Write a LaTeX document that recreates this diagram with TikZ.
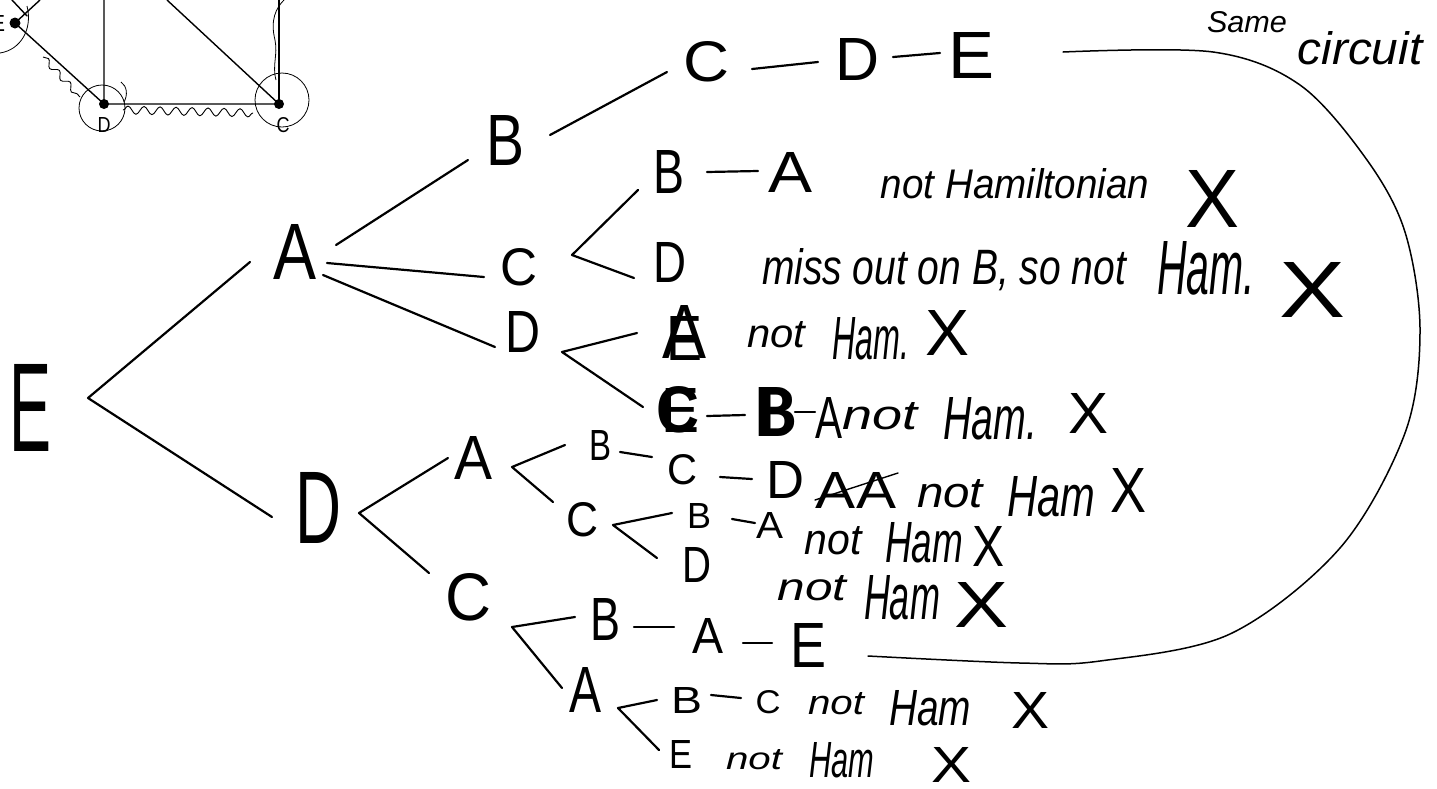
\documentclass[tikz,border=0pt]{standalone}
\usepackage{fontspec}
\setmainfont{Liberation Sans}
\usepackage{graphicx}
\usetikzlibrary{decorations.pathmorphing}
\newcommand{\bx}[3]{\resizebox{#1pt}{#2pt}{#3}}
\newcommand{\ib}[3]{\resizebox{#1pt}{#2pt}{\itshape #3}}
\begin{document}
\begin{tikzpicture}[x=1pt,y=-1pt,
  txt/.style={inner sep=0pt},
  edge/.style={line width=2.2pt,line cap=round,line join=round},
  thinl/.style={line width=1.4pt,line cap=round},
  wig/.style={line width=0.9pt,decorate,decoration={snake,amplitude=#1pt,segment length=16pt}}]
\useasboundingbox (0,0) rectangle (1437,788);
\clip (0,0) rectangle (1437,788);

% ---------- small graph, top left ----------
\coordinate (gE) at (15,23);
\coordinate (gD) at (104,104);
\coordinate (gC) at (279,104);
\coordinate (gT1) at (104,0);
\coordinate (gT2) at (167,0);
\coordinate (gT3) at (279,0);
\coordinate (gT4) at (40,0);
\coordinate (gT5) at (12,0);
\draw[thinl] (gT1) -- (gD) -- (gC) -- (gT2);
\draw[line width=2.2pt] (gT3) -- (gC);
\draw[thinl] (gE) -- (gD);
\draw[thinl] (gE) -- (gT4);
\draw[thinl] (gT5) -- (27,16);
\fill (gE) circle (5.5);
\fill (gD) circle (5);
\fill (gC) circle (5);
\node[txt] (lE) at (-2,23) {\bx{14}{16}{E}};
\node[txt] (lD) at (104,125) {\bx{13}{15}{D}};
\node[txt] (lC) at (283,125) {\bx{13}{15}{C}};
\draw[line width=0.8pt] (102,108) circle (23);
\draw[line width=0.8pt] (282,100) circle (27);
\draw[line width=0.8pt] (27,6) .. controls (33,30) and (20,50) .. (0,53);
\draw[line width=0.8pt] (121,82) .. controls (127,86) and (128,95) .. (124,102);
\draw[wig=3] (43,57) -- (80,97);
\draw[wig=4] (123,110) -- (253,113);
\draw[line width=0.8pt] (284,0) .. controls (276,8) and (270,20) .. (275,40) .. controls (278,55) and (272,65) .. (276,80);

% ---------- tree ----------
\node[txt] (E0) at (31,408) {\bx{42}{87}{E}};
\node[txt] (A1) at (295,252) {\bx{43}{55}{A}};
\node[txt] (D1) at (319,508) {\bx{46}{71}{D}};
\node[txt] (B2) at (505,140) {\bx{38}{50}{B}};
\node[txt] (C2) at (519,267) {\bx{37}{37}{C}};
\node[txt] (D2) at (523,332) {\bx{35}{41}{D}};

\coordinate (v0) at (88,398);
\draw[edge] (250,262) -- (v0) -- (272,517);
\draw[edge] (336,245) -- (468,160);
\draw[edge] (327,263) -- (484,277);
\draw[edge] (323,275) -- (495,347);

% C - D - E
\node[txt] (C3) at (706,62) {\bx{46}{40}{C}};
\node[txt] (D3) at (857,59) {\bx{44}{42}{D}};
\node[txt] (E3) at (971,55) {\bx{46}{46}{E}};
\draw[edge] (550,135) -- (667,72);
\draw[edge] (752,69) -- (818,62);
\draw[edge] (893,57) -- (940,53);

% C < B - A / D
\draw[edge] (638,190) -- (572,255) -- (634,278);
\node[txt] (B4) at (669,172) {\bx{31}{43}{B}};
\node[txt] (A4) at (790,172) {\bx{44}{40}{A}};
\draw[edge] (707,172) -- (758,171);
\node[txt] (t1) at (1015,184) {\ib{268}{30}{not Hamiltonian}};
\node[txt] (x1) at (1212,199) {\bx{54}{57}{X}};

\node[txt] (D4) at (670,262) {\bx{33}{40}{D}};
\node[txt] (t2) at (944,270) {\ib{364}{36}{miss out on B, so not}};
\node[txt] (t2b) at (1206,268) {\ib{98}{53}{Ham.}};
\node[txt] (x2) at (1313,290) {\bx{66}{55}{X}};

% D < ...
\draw[edge] (637,333) -- (562,352) -- (643,407);
\node[txt] (A5) at (684,332) {\bx{44}{53}{A}};
\node[txt] (E5) at (684,338) {\bx{36}{44}{E}};
\node[txt] (t3) at (776,335) {\ib{58}{26}{not}};
\node[txt] (t3b) at (871,339) {\ib{77}{42}{Ham.}};
\node[txt] (x3) at (947,333) {\bx{44}{45}{X}};

\node[txt] (C6) at (678,410) {\bx{43}{46}{\bfseries C}};
\node[txt] (E6) at (680,410) {\bx{38}{44}{E}};
\node[txt] (B6) at (775,412) {\bx{40}{49}{\bfseries B}};
\node[txt] (B6b) at (779,412) {\bx{36}{45}{B}};
\node[txt] (A6) at (829,418) {\bx{27}{41}{A}};
\draw[edge] (707,416) -- (745,415);
\draw[edge] (795,412) -- (815,412);
\node[txt] (t4) at (880,416) {\ib{75}{27}{not}};
\node[txt] (t4b) at (990,419) {\ib{94}{42}{Ham.}};
\node[txt] (x4) at (1088,413) {\bx{40}{40}{X}};

% D < A ... / C ...
\draw[edge] (448,458) -- (359,513) -- (429,573);
\node[txt] (A7) at (474,458) {\bx{38}{43}{A}};
\draw[edge] (565,445) -- (512,467) -- (553,502);
\node[txt] (B7) at (600,445) {\bx{22}{30}{B}};
\node[txt] (C7) at (682,470) {\bx{30}{30}{C}};
\node[txt] (D7) at (785,480) {\bx{38}{37}{D}};
\draw[edge] (620,452) -- (652,457);
\draw[edge] (720,477) -- (752,479);
\node[txt] (s7) at (856,490) {\bx{80}{36}{AA}};
\draw[thinl] (815,500) -- (898,473);
\node[txt] (t7) at (950,494) {\ib{66}{28}{not}};
\node[txt] (t7b) at (1051,497) {\ib{88}{40}{Ham}};
\node[txt] (x7) at (1128,490) {\bx{36}{44}{X}};

\node[txt] (C8) at (582,520) {\bx{32}{34}{C}};
\draw[edge] (672,513) -- (613,525) -- (657,558);
\node[txt] (B8) at (699,516) {\bx{24}{25}{B}};
\draw[edge] (732,519) -- (755,523);
\node[txt] (A8) at (770,525) {\bx{27}{26}{A}};
\node[txt] (t8) at (833,541) {\ib{57}{28}{not}};
\node[txt] (t8b) at (924,543) {\ib{78}{40}{Ham}};
\node[txt] (x8) at (988,546) {\bx{32}{40}{X}};

\node[txt] (D9) at (697,565) {\bx{29}{35}{D}};
\node[txt] (t9) at (812,588) {\ib{69}{25}{not}};
\node[txt] (t9b) at (902,598) {\ib{76}{44}{Ham}};
\node[txt] (x9) at (981,605) {\bx{54}{45}{X}};

% D < C ...
\node[txt] (C10) at (469,597) {\bx{46}{47}{C}};
\draw[edge] (575,617) -- (512,627) -- (562,688);
\node[txt] (B10) at (605,619) {\bx{30}{42}{B}};
\node[txt] (A10) at (708,636) {\bx{31}{35}{A}};
\node[txt] (E10) at (808,645) {\bx{36}{44}{E}};
\draw[edge] (634,627) -- (674,627);
\draw[edge] (743,643) -- (772,643);

\node[txt] (A11) at (585,690) {\bx{32}{45}{A}};
\draw[edge] (657,700) -- (618,708) -- (659,750);
\node[txt] (B11) at (687,700) {\bx{31}{26}{B}};
\draw[edge] (711,695) -- (741,698);
\node[txt] (C11) at (768,702) {\bx{25}{23}{C}};
\node[txt] (t11) at (836,704) {\ib{56}{22}{not}};
\node[txt] (t11b) at (930,708) {\ib{82}{35}{Ham}};
\node[txt] (x11) at (1030,710) {\bx{38}{36}{X}};

\node[txt] (E12) at (681,754) {\bx{23}{28}{E}};
\node[txt] (t12) at (754,760) {\ib{56}{20}{not}};
\node[txt] (t12b) at (842,760) {\ib{65}{35}{Ham}};
\node[txt] (x12) at (951,765) {\bx{40}{35}{X}};

% same circuit
\node[txt] (sm) at (1247,22) {\ib{80}{21}{Same}};
\node[txt] (ci) at (1360,48) {\ib{125}{33}{circuit}};
\coordinate (cs) at (1063,52);
\coordinate (ce) at (868,656);
\draw[line width=1.5pt,line cap=round] plot[smooth,tension=0.55] coordinates {(cs) (1213,52) (1300,85) (1367,160) (1405,232) (1420,330) (1405,433) (1340,548) (1230,634) (1100,661) (1020,663) (ce)};
\end{tikzpicture}
\end{document}
